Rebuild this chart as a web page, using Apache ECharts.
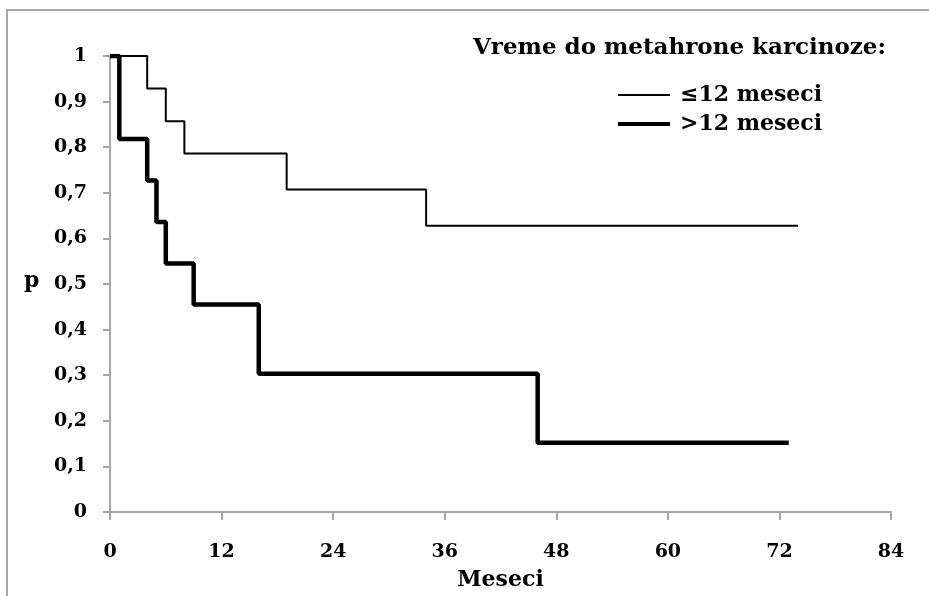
<!DOCTYPE html>
<html lang="sr">
<head>
    <meta charset="UTF-8">
    <title>Vreme do metahrone karcinoze</title>
    <script src="https://cdn.jsdelivr.net/npm/echarts@6/dist/echarts.min.js"></script>
    <style>
        html, body { margin: 0; padding: 0; background: #fff; }
        #main { width: 929px; height: 596px; }
    </style>
</head>
<body>
<div id="main"></div>
<script type="text/javascript">
    // podaci procitani sa grafika (Kaplan-Meier krive)
    var monthsShort = [0, 4, 6, 8, 19, 34, 74];
    var survShort = [1, 0.929, 0.857, 0.786, 0.707, 0.628, 0.628];
    var monthsLong = [0, 1, 4, 5, 6, 9, 16, 46, 73];
    var survLong = [1, 0.818, 0.727, 0.636, 0.545, 0.455, 0.303, 0.152, 0.152];
    var seriesNames = ['≤12 meseci', '>12 meseci'];
    var legendTitle = 'Vreme do metahrone karcinoze:';

    function pairs(xs, ys) {
        return xs.map(function (x, i) { return [x, ys[i]]; });
    }

    var font = 'DejaVu Serif';
    var gray = '#a6a6a6';

    var myChart = echarts.init(document.getElementById('main'));
    var option = {
        backgroundColor: '#fff',
        animation: false,
        title: {
            text: legendTitle,
            left: 468,
            top: 32,
            textStyle: { fontFamily: font, fontWeight: 'bold', fontSize: 23, color: '#000' }
        },
        legend: [
            {
                data: [seriesNames[0]],
                left: 613, top: 79,
                icon: 'rect', itemWidth: 52, itemHeight: 2,
                textStyle: { fontFamily: font, fontWeight: 'bold', fontSize: 22, color: '#000', padding: [0, 0, 0, 5] }
            },
            {
                data: [seriesNames[1]],
                left: 613, top: 108,
                icon: 'rect', itemWidth: 52, itemHeight: 4,
                textStyle: { fontFamily: font, fontWeight: 'bold', fontSize: 22, color: '#000', padding: [0, 0, 0, 5] }
            }
        ],
        grid: { left: 110, right: 38, top: 56, bottom: 83 },
        xAxis: {
            type: 'value',
            min: 0, max: 84, interval: 12,
            name: 'Meseci',
            nameLocation: 'middle',
            nameGap: 57,
            nameTextStyle: { fontFamily: font, fontWeight: 'bold', fontSize: 22, color: '#000' },
            axisLine: { lineStyle: { color: gray, width: 2 } },
            axisTick: { show: true, length: 8, lineStyle: { color: gray, width: 2 } },
            axisLabel: { margin: 31, fontFamily: font, fontWeight: 'bold', fontSize: 19, color: '#000' },
            splitLine: { show: false }
        },
        yAxis: {
            type: 'value',
            min: 0, max: 1, interval: 0.1,
            axisLine: { show: true, lineStyle: { color: gray, width: 2 } },
            axisTick: { show: true, length: 7, lineStyle: { color: gray, width: 2 } },
            axisLabel: {
                margin: 23, fontFamily: font, fontWeight: 'bold', fontSize: 19, color: '#000',
                formatter: function (v) { return String(Math.round(v * 10) / 10).replace('.', ','); }
            },
            splitLine: { show: false }
        },
        graphic: [
            {
                type: 'rect',
                shape: { x: 7, y: 10, width: 940, height: 600 },
                style: { fill: 'none', stroke: gray, lineWidth: 2 },
                silent: true
            },
            {
                type: 'text',
                left: 24, top: 270,
                style: { text: 'p', fontFamily: font, fontWeight: 'bold', fontSize: 22, fill: '#000' }
            }
        ],
        series: [
            {
                name: seriesNames[0],
                type: 'line',
                step: 'end',
                symbol: 'none',
                data: pairs(monthsShort, survShort),
                lineStyle: { color: '#000', width: 2 },
                itemStyle: { color: '#000' }
            },
            {
                name: seriesNames[1],
                type: 'line',
                step: 'end',
                symbol: 'none',
                data: pairs(monthsLong, survLong),
                lineStyle: { color: '#000', width: 4.5 },
                itemStyle: { color: '#000' }
            }
        ]
    };
    myChart.setOption(option);
</script>
</body>
</html>
